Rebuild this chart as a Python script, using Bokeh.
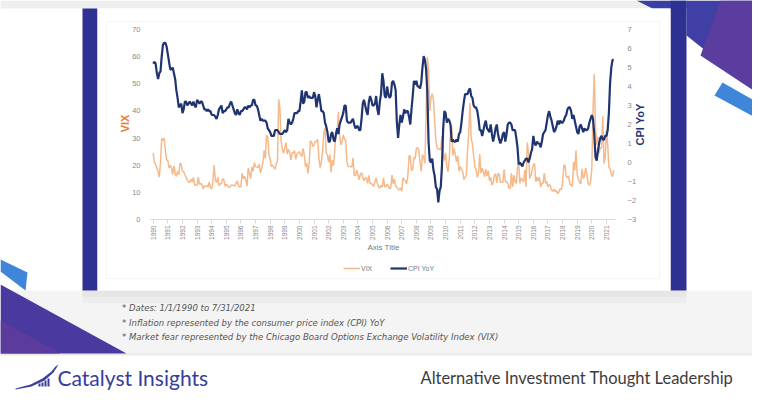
import numpy as np
from math import pi
from bokeh.plotting import figure
from bokeh.models import (Range1d, LinearAxis, FixedTicker, BoxAnnotation, PolyAnnotation,
                          Label, Legend, LegendItem)
from bokeh.embed import file_html
from bokeh.resources import INLINE

# ---------------- data (monthly, Jan 1990 .. Jul 2021) ----------------
start_year = 1990
vix = [
    24.6, 21.0, 20.4, 19.0, 17.5, 15.6, 21.3, 29.9, 29.1, 30.0, 25.2, 22.0,   # 1990
    21.7, 19.0, 20.0, 19.0, 16.5, 19.8, 17.0, 15.9, 17.8, 16.5, 20.8, 20.2,   # 1991
    17.8, 17.7, 16.5, 15.5, 14.6, 13.7, 13.7, 14.8, 13.8, 15.5, 12.8, 12.6,   # 1992
    12.6, 15.6, 12.9, 13.3, 12.8, 11.2, 12.4, 12.2, 12.4, 12.0, 13.8, 11.7,   # 1993
    11.3, 14.2, 20.0, 14.5, 13.6, 15.6, 12.5, 13.1, 13.3, 15.0, 14.7, 12.2,   # 1994
    12.9, 12.6, 11.9, 11.9, 12.7, 12.6, 12.5, 12.4, 13.3, 14.2, 12.5, 12.0,   # 1995
    12.1, 17.0, 15.0, 15.9, 14.5, 12.3, 19.0, 17.0, 15.0, 19.4, 17.8, 20.9,   # 1996
    19.5, 19.3, 19.1, 20.4, 17.2, 18.7, 20.9, 25.4, 22.5, 31.0, 30.6, 24.0,   # 1997
    22.3, 19.5, 20.0, 19.2, 18.6, 20.5, 21.5, 44.3, 40.9, 28.8, 26.0, 24.4,   # 1998
    26.3, 28.3, 24.1, 25.9, 24.7, 22.0, 24.6, 24.5, 25.4, 22.2, 24.1, 24.6,   # 1999
    24.9, 24.0, 23.2, 26.2, 23.7, 19.5, 20.7, 17.0, 20.6, 29.0, 28.6, 26.9,   # 2000
    27.4, 28.8, 28.7, 29.5, 22.6, 19.1, 21.0, 25.0, 31.9, 33.6, 24.6, 23.8,   # 2001
    21.1, 23.9, 17.4, 21.9, 19.9, 25.4, 32.0, 32.6, 39.7, 31.1, 27.5, 28.6,   # 2002
    31.2, 29.6, 29.2, 21.2, 19.5, 19.5, 19.5, 19.3, 22.7, 16.1, 16.3, 18.3,   # 2003
    16.6, 14.6, 16.7, 17.2, 15.5, 14.3, 15.3, 15.3, 13.3, 16.3, 13.2, 13.3,   # 2004
    12.8, 12.1, 14.0, 15.3, 13.3, 12.0, 11.6, 12.6, 11.9, 15.3, 12.1, 12.1,   # 2005
    12.9, 12.3, 11.4, 11.6, 16.4, 13.1, 14.9, 12.3, 11.9, 11.1, 10.9, 11.6,   # 2006
    10.4, 15.4, 14.6, 14.2, 13.1, 16.2, 23.5, 23.4, 18.0, 18.5, 22.9, 22.5,   # 2007
    26.2, 26.5, 25.6, 20.8, 17.8, 23.9, 22.9, 20.7, 39.4, 59.9, 55.3, 40.0,   # 2008
    44.8, 46.4, 44.1, 36.5, 28.9, 26.4, 25.9, 26.0, 25.6, 30.7, 24.5, 21.7,   # 2009
    24.6, 19.5, 17.6, 22.1, 32.1, 34.5, 23.5, 26.1, 23.7, 21.2, 23.5, 17.8,   # 2010
    19.5, 18.4, 17.7, 14.8, 15.5, 16.5, 25.3, 31.6, 43.0, 30.0, 27.8, 23.4,   # 2011
    19.4, 18.4, 15.5, 17.2, 24.1, 17.1, 18.9, 17.5, 15.7, 18.6, 16.0, 18.0,   # 2012
    14.3, 15.5, 12.7, 13.5, 16.3, 16.9, 13.5, 17.0, 16.6, 13.8, 13.7, 13.7,   # 2013
    18.4, 14.0, 13.9, 13.4, 11.4, 11.6, 17.0, 12.0, 16.3, 14.0, 13.3, 19.2,   # 2014
    21.0, 13.3, 15.3, 14.6, 13.8, 18.2, 12.1, 28.4, 24.5, 15.1, 16.1, 18.2,   # 2015
    20.2, 20.6, 13.9, 15.7, 14.2, 15.6, 11.9, 13.4, 13.3, 17.1, 13.3, 14.0,   # 2016
    12.0, 12.9, 12.4, 10.8, 10.4, 11.2, 10.3, 10.6, 9.5, 10.2, 11.3, 11.0,    # 2017
    13.5, 19.9, 20.0, 15.9, 15.4, 16.1, 12.8, 12.9, 12.1, 21.2, 18.1, 25.4,   # 2018
    16.6, 14.8, 13.7, 13.1, 18.7, 15.1, 16.1, 19.0, 16.2, 13.2, 12.6, 13.8,   # 2019
    18.8, 40.1, 53.5, 34.2, 27.5, 30.4, 24.5, 26.4, 26.4, 38.0, 20.6, 22.8,   # 2020
    33.1, 27.9, 19.4, 18.6, 16.8, 15.8, 18.2,                                 # 2021
]
cpi_yoy = [
    5.2, 5.3, 5.2, 4.7, 4.4, 4.7, 4.8, 5.6, 6.2, 6.3, 6.3, 6.1,   # 1990
    5.7, 5.3, 4.9, 4.9, 5.0, 4.7, 4.4, 3.8, 3.4, 2.9, 3.0, 3.1,   # 1991
    2.6, 2.8, 3.2, 3.2, 3.0, 3.1, 3.2, 3.1, 3.0, 3.2, 3.0, 2.9,   # 1992
    3.3, 3.2, 3.1, 3.2, 3.2, 3.0, 2.8, 2.8, 2.7, 2.8, 2.7, 2.7,   # 1993
    2.5, 2.5, 2.5, 2.4, 2.3, 2.5, 2.8, 2.9, 3.0, 2.6, 2.7, 2.7,   # 1994
    2.8, 2.9, 2.9, 3.1, 3.2, 3.0, 2.8, 2.6, 2.5, 2.8, 2.6, 2.5,   # 1995
    2.7, 2.7, 2.8, 2.9, 2.9, 2.8, 3.0, 2.9, 3.0, 3.0, 3.3, 3.3,   # 1996
    3.0, 3.0, 2.8, 2.5, 2.2, 2.3, 2.2, 2.2, 2.2, 2.1, 1.8, 1.7,   # 1997
    1.6, 1.4, 1.4, 1.4, 1.7, 1.7, 1.7, 1.6, 1.5, 1.5, 1.5, 1.6,   # 1998
    1.7, 1.6, 1.7, 2.3, 2.1, 2.0, 2.1, 2.3, 2.6, 2.6, 2.6, 2.7,   # 1999
    2.7, 3.2, 3.8, 3.1, 3.2, 3.7, 3.7, 3.4, 3.5, 3.4, 3.4, 3.4,   # 2000
    3.7, 3.5, 2.9, 3.3, 3.6, 3.2, 2.7, 2.7, 2.6, 2.1, 1.9, 1.6,   # 2001
    1.1, 1.1, 1.5, 1.6, 1.2, 1.1, 1.5, 1.8, 1.5, 2.0, 2.2, 2.4,   # 2002
    2.6, 3.0, 3.0, 2.2, 2.1, 2.1, 2.1, 2.2, 2.3, 2.0, 1.8, 1.9,   # 2003
    1.9, 1.7, 1.7, 2.3, 3.1, 3.3, 3.0, 2.7, 2.5, 3.2, 3.5, 3.3,   # 2004
    3.0, 3.0, 3.1, 3.5, 2.8, 2.5, 3.2, 3.6, 4.7, 4.3, 3.5, 3.4,   # 2005
    4.0, 3.6, 3.4, 3.5, 4.2, 4.3, 4.1, 3.8, 2.1, 1.3, 2.0, 2.5,   # 2006
    2.1, 2.4, 2.8, 2.6, 2.7, 2.7, 2.4, 2.0, 2.8, 3.5, 4.3, 4.1,   # 2007
    4.3, 4.0, 4.0, 3.9, 4.2, 5.0, 5.6, 5.4, 4.9, 3.7, 1.1, 0.1,   # 2008
    0.0, 0.2, -0.4, -0.7, -1.3, -1.4, -2.1, -1.5, -1.3, -0.2, 1.8, 2.7,  # 2009
    2.6, 2.1, 2.3, 2.2, 2.0, 1.1, 1.2, 1.1, 1.1, 1.2, 1.1, 1.5,   # 2010
    1.6, 2.1, 2.7, 3.2, 3.6, 3.6, 3.6, 3.8, 3.9, 3.5, 3.4, 3.0,   # 2011
    2.9, 2.9, 2.7, 2.3, 1.7, 1.7, 1.4, 1.7, 2.0, 2.2, 1.8, 1.7,   # 2012
    1.6, 2.0, 1.5, 1.1, 1.4, 1.8, 2.0, 1.5, 1.2, 1.0, 1.2, 1.5,   # 2013
    1.6, 1.1, 1.5, 2.0, 2.1, 2.1, 2.0, 1.7, 1.7, 1.7, 1.3, 0.8,   # 2014
    -0.1, 0.0, -0.1, -0.2, 0.0, 0.1, 0.2, 0.2, 0.0, 0.2, 0.5, 0.7,  # 2015
    1.4, 1.0, 0.9, 1.1, 1.0, 1.0, 0.8, 1.1, 1.5, 1.6, 1.7, 2.1,   # 2016
    2.5, 2.7, 2.4, 2.2, 1.9, 1.6, 1.7, 1.9, 2.2, 2.0, 2.2, 2.1,   # 2017
    2.1, 2.2, 2.4, 2.5, 2.8, 2.9, 2.9, 2.7, 2.3, 2.5, 2.2, 1.9,   # 2018
    1.6, 1.5, 1.9, 2.0, 1.8, 1.6, 1.8, 1.7, 1.7, 1.8, 2.1, 2.3,   # 2019
    2.5, 2.3, 1.5, 0.3, 0.1, 0.6, 1.0, 1.3, 1.4, 1.2, 1.2, 1.4,   # 2020
    1.4, 1.7, 2.6, 4.2, 5.0, 5.4, 5.4,                            # 2021
]
year_ticks = list(range(1990, 2022))
vix_ticks = [0, 10, 20, 30, 40, 50, 60, 70]
cpi_ticks = [-3, -2, -1, 0, 1, 2, 3, 4, 5, 6, 7]
series_names = ["VIX", "CPI YoY"]
footnotes = [
    "* Dates: 1/1/1990 to 7/31/2021",
    "* Inflation represented by the consumer price index (CPI) YoY",
    "* Market fear represented by the Chicago Board Options Exchange Volatility Index (VIX)",
]

x = start_year + np.arange(len(vix)) / 12.0

# ---------------- geometry (canvas pixels) ----------------
W, H = 752, 394
XL, XR, YT, YB = 150, 615, 29, 219   # chart plot area on canvas
X0, X1 = 1989.815, 2021.62          # x values at chart left / right edge
V0, V1 = 0, 70                      # VIX axis span
C0, C1 = -3, 7                      # CPI axis span

kx = (XR - XL) / (X1 - X0)
kv = (YB - YT) / (V1 - V0)
kc = (YB - YT) / (C1 - C0)
x_range = Range1d(X0 - XL / kx, X1 + (W - XR) / kx)
y_range = Range1d(V0 - (H - YB) / kv, V1 + YT / kv)
c_range = Range1d(C0 - (H - YB) / kc, C1 + YT / kc)

p = figure(width=W, height=H, output_backend="svg", toolbar_location=None,
           x_range=x_range, y_range=y_range,
           min_border=0, min_border_left=0, min_border_right=0,
           min_border_top=0, min_border_bottom=0)
p.outline_line_color = None
p.background_fill_color = "white"
p.border_fill_color = "white"
p.xgrid.visible = False
p.ygrid.visible = False
p.extra_y_ranges = {"cpi": c_range}

TICK_FONT = "'Liberation Sans', Arial, sans-serif"
TICK_COLOR = "#8a8a8a"

ya = p.yaxis[0]
ya.fixed_location = X0
ya.bounds = (V0, V1)
ya.ticker = FixedTicker(ticks=vix_ticks)
ya.axis_line_color = None
ya.major_tick_line_color = None
ya.minor_tick_line_color = None
ya.major_label_standoff = 4
ya.major_label_text_font = TICK_FONT
ya.major_label_text_font_size = "7.5px"
ya.major_label_text_color = TICK_COLOR

ra = LinearAxis(y_range_name="cpi", ticker=FixedTicker(ticks=cpi_ticks),
                fixed_location=X1, bounds=(C0, C1))
ra.axis_line_color = None
ra.major_tick_line_color = None
ra.minor_tick_line_color = None
ra.major_label_standoff = 6
ra.major_label_text_font = TICK_FONT
ra.major_label_text_font_size = "7.5px"
ra.major_label_text_color = TICK_COLOR
p.add_layout(ra, "right")

xa = p.xaxis[0]
xa.fixed_location = V0
xa.bounds = (X0, X1)
xa.ticker = FixedTicker(ticks=year_ticks)
xa.axis_line_color = "#d9d9d9"
xa.major_tick_line_color = "#d9d9d9"
xa.major_tick_out = 4
xa.major_tick_in = 0
xa.minor_tick_line_color = None
xa.major_label_orientation = pi / 2
xa.major_label_standoff = 2
xa.major_label_text_font = TICK_FONT
xa.major_label_text_font_size = "6.5px"
xa.major_label_text_color = TICK_COLOR


def box(l, t, r, b, color, alpha=1.0, line=None):
    p.add_layout(BoxAnnotation(left=l, right=r, top=t, bottom=b,
                               left_units="canvas", right_units="canvas",
                               top_units="canvas", bottom_units="canvas",
                               fill_color=color, fill_alpha=alpha,
                               line_color=line, level="underlay"))


def poly(xs, ys, color, alpha=1.0):
    p.add_layout(PolyAnnotation(xs=list(xs), ys=list(ys),
                                xs_units="canvas", ys_units="canvas",
                                fill_color=color, fill_alpha=alpha,
                                line_color=None, level="underlay"))


# ---------------- background decoration ----------------
box(0, 0, 768, 8, "#eeeeee")
box(0, 290, 768, 354, "#f4f4f4")
box(82, 290, 686, 297, "#e6e6e6")
box(82, 297, 686, 303, "#ededed")
box(0, 353, 768, 355, "#e9e9e9")
# top-right
poly([636, 686, 686, 652], [0, 0, 8, 8], "#3a3fa5")
poly([686, 768, 768, 686], [0, 0, 100, 35], "#3f3fa6")
poly([720, 768, 768, 700], [0, 0, 100, 55], "#5a3d9f")
poly([722, 768, 768, 714], [82, 108, 124, 95], "#3f86db")
# bottom-left
poly([0, 27, 25, 0], [259, 272, 290, 271], "#3f86db")
poly([0, 126, 0], [284, 353, 353], "#4a3aa0")
poly([0, 60, 0], [320, 353, 353], "#5b3c9c")
# card
box(82, 8, 97, 290, "#2e3192")
box(670, 0, 686, 290, "#2e3192")
box(97, 8, 670, 290, "white")
box(106, 21, 659, 278, "white", line="#dedede")

# ---------------- data lines ----------------
r_vix = p.line(x, vix, line_color="#F6B98A", line_width=1.5)
r_cpi = p.line(x, cpi_yoy, line_color="#1F3470", line_width=2.2, y_range_name="cpi")

legend = Legend(items=[LegendItem(label=series_names[0], renderers=[r_vix]),
                       LegendItem(label=series_names[1], renderers=[r_cpi])],
                orientation="horizontal", location=(343, H - 272),
                background_fill_alpha=0, border_line_color=None,
                padding=0, margin=0, spacing=9, label_standoff=1,
                glyph_width=17, glyph_height=8,
                label_text_font=TICK_FONT, label_text_font_size="7px",
                label_text_color="#7a7a7a")
p.add_layout(legend, "center")

# ---------------- texts ----------------
def label(xv, yv, text, size, color, font=TICK_FONT, style="normal", align="left",
          angle=0.0):
    p.add_layout(Label(x=xv, y=yv, x_units="canvas", y_units="canvas", text=text,
                       text_font=font, text_font_size=size, text_color=color,
                       text_font_style=style, text_align=align,
                       text_baseline="middle", angle=angle))


label(124.5, 123, "VIX", "11px", "#ED7D31", style="bold", align="center", angle=pi / 2)
label(639.5, 124, "CPI YoY", "11px", "#1F3470", style="bold", align="center", angle=pi / 2)
label(383, 246.5, "Axis Title", "8px", "#7a7a7a", align="center")

NARROW = "'Liberation Sans Narrow', 'DejaVu Sans Condensed', 'Roboto Condensed', sans-serif"
for i, t in enumerate(footnotes):
    label(121.5, 307 + 14.5 * i, t, "9.5px", "#555555", font=NARROW, style="italic")

# logo
poly([15, 30, 42, 51, 55, 58, 53, 44, 31, 15], [388, 384, 378, 371, 366, 364, 372, 380, 386, 389], "#3a3f9c")
for bx, bh in zip([38, 41, 44, 47], [3, 4, 6, 8]):
    box(bx, 386 - bh, bx + 2, 386, "#3a3f9c")
label(57, 377, "Catalyst Insights", "21px", "#373d9b", font="Lato")
label(420, 377, "Alternative Investment Thought Leadership", "16.5px", "#3c3c3c", font="Lato")

open("out.html", "w").write(file_html(p, INLINE))
